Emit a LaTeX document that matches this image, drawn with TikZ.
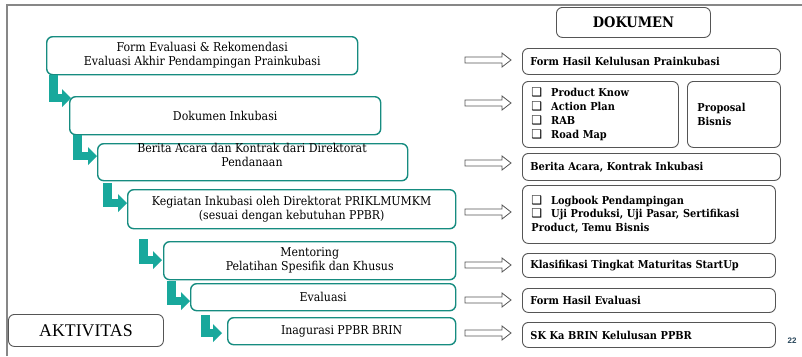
\documentclass[tikz,border=0pt]{standalone}
\usepackage{fontspec}
\setmainfont{DejaVu Serif Condensed}
\newfontfamily\symfont{DejaVu Sans}
\newfontfamily\timesfont{Liberation Serif}
\newfontfamily\pagefont{Liberation Sans}
\usetikzlibrary{calc,arrows.meta}
\definecolor{tealb}{RGB}{22,140,128}
\definecolor{tealf}{RGB}{24,168,156}
\definecolor{grayb}{RGB}{85,85,85}
\definecolor{framec}{RGB}{135,135,135}
\definecolor{pagec}{RGB}{40,70,90}
\newcommand{\cb}{{\symfont\fontsize{12}{14}\selectfont ❑}\hspace{9pt}}
\tikzset{
 lbox/.style={draw=tealb, line width=1.4pt, rounded corners=6pt, fill=white, anchor=north west, align=center, inner sep=0pt, font=\fontsize{12.2}{14}\selectfont},
 ltext/.style={inner sep=0pt, align=center, font=\fontsize{12.2}{14}\selectfont},
 rbox/.style={draw=grayb, line width=0.9pt, rounded corners=6pt, fill=white, anchor=north west, inner ysep=0pt, inner xsep=8pt, align=left, font=\bfseries\fontsize{10.9}{14}\selectfont},
 larrow/.style={draw=tealf, line width=8.5pt, -{Triangle[length=9pt,width=18pt,line width=0pt]}},
 harrow/.pic={\draw[grayb, line width=0.8pt, fill=white] (0,-3) -- (37,-3) -- (37,-7) -- (46,0) -- (37,7) -- (37,3) -- (0,3) -- cycle;}
}
\begin{document}
\begin{tikzpicture}[x=1pt,y=-1pt]
\useasboundingbox (0,0) rectangle (802,356);
\fill[white] (0,0) rectangle (802,356);
\draw[framec, line width=1.6pt] (7,356) -- (7,5) -- (802,5);

% left boxes
\node[lbox, minimum width=311pt, minimum height=38pt] (b1) at (46,36) {Form Evaluasi \& Rekomendasi\\Evaluasi Akhir Pendampingan Prainkubasi};
\node[lbox, minimum width=311pt, minimum height=38pt] (b2) at (69,96) {Dokumen Inkubasi};
\node[lbox, minimum width=310pt, minimum height=37pt] (b3) at (97,143) {};
\node[ltext] (b3t) at (252,155) {Berita Acara dan Kontrak dari Direktorat\\Pendanaan};
\node[lbox, minimum width=328pt, minimum height=39pt] (b4) at (127,189) {Kegiatan Inkubasi oleh Direktorat PRIKLMUMKM\\(sesuai dengan kebutuhan PPBR)};
\node[lbox, minimum width=292pt, minimum height=38pt] (b5) at (163,241) {Mentoring\\Pelatihan Spesifik dan Khusus};
\node[lbox, minimum width=265pt, minimum height=27pt] (b6) at (190,283) {Evaluasi};
\node[lbox, minimum width=228pt, minimum height=27pt] (b7) at (227,317) {Inagurasi PPBR BRIN};

\node[draw=grayb, line width=0.9pt, rounded corners=6pt, anchor=north west, inner sep=0pt, minimum width=155pt, minimum height=32pt, font=\timesfont\fontsize{17.8}{20}\selectfont] (akt) at (8,314) {AKTIVITAS};

% L-shaped arrows
\draw[larrow] ($(b1.south west)+(7.25,0)$) |- ($(b2.north west)+(2,2)$);
\draw[larrow] ($(b2.south west)+(8.25,0)$) |- ($(b3.north west)+(0,13)$);
\draw[larrow] ($(b3.south west)+(10.25,2)$) |- ($(b4.north west)+(0,14)$);
\draw[larrow] ($(b4.south west)+(16.25,10)$) |- ($(b5.north west)+(-1,19)$);
\draw[larrow] ($(b5.south west)+(8.25,1)$) |- ($(b6.north west)+(0,18)$);
\draw[larrow] ($(b6.south west)+(15.25,4)$) |- ($(b7.north west)+(-5,16)$);

% right side
\node[rbox, inner xsep=0pt, minimum width=154pt, minimum height=30pt, align=center, font=\bfseries\fontsize{14.5}{16}\selectfont] (dok) at (556,7) {DOKUMEN};
\node[rbox, text width=242pt, minimum height=26pt] (r1) at (522,48) {Form Hasil Kelulusan Prainkubasi};
\node[rbox, inner xsep=9pt, text width=138pt, minimum height=66pt] (r2) at (522,81) {\cb Product Know\\\cb Action Plan\\\cb RAB\\\cb Road Map};
\node[rbox, inner xsep=10pt, text width=73pt, minimum height=66pt] (r3) at (687,81) {Proposal\\Bisnis};
\node[rbox, text width=242pt, minimum height=27pt] (r4) at (522,153) {Berita Acara, Kontrak Inkubasi};
\node[rbox, inner xsep=9pt, text width=235pt, minimum height=58pt, font=\bfseries\fontsize{10.9}{13.5}\selectfont] (r5) at (522,185) {\cb Logbook Pendampingan\\\cb Uji Produksi, Uji Pasar, Sertifikasi\\Product, Temu Bisnis};
\node[rbox, text width=237pt, minimum height=24pt] (r6) at (522,253) {Klasifikasi Tingkat Maturitas StartUp};
\node[rbox, text width=237pt, minimum height=24pt] (r7) at (522,288) {Form Hasil Evaluasi};
\node[rbox, text width=237pt, minimum height=25pt] (r8) at (522,322) {SK Ka BRIN Kelulusan PPBR};

% hollow arrows
\pic at (465,60) {harrow};
\pic at (465,103) {harrow};
\pic at (465,163) {harrow};
\pic at (465,212) {harrow};
\pic at (465,265) {harrow};
\pic at (465,300) {harrow};
\pic at (465,333) {harrow};

\node[text=pagec, inner sep=0pt, font=\pagefont\bfseries\fontsize{8}{9}\selectfont] (pg) at (792,341) {22};
\end{tikzpicture}
\end{document}
